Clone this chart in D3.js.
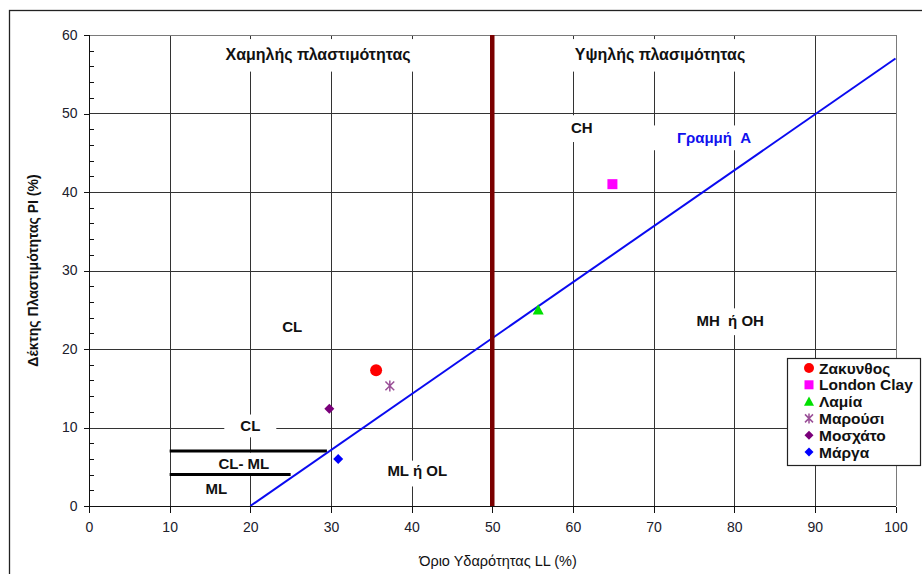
<!DOCTYPE html>
<html>
<head>
<meta charset="utf-8">
<script src="https://cdn.jsdelivr.net/npm/d3@7"></script>
<style>
  html, body { margin: 0; padding: 0; background: #fff; }
  svg { display: block; font-family: "Liberation Sans", Arial, sans-serif; }
</style>
</head>
<body>
<svg id="chart" width="922" height="574"></svg>
<script>
// Plasticity chart (Casagrande): liquid limit LL vs plasticity index PI

const llTicks = [0, 10, 20, 30, 40, 50, 60, 70, 80, 90, 100];
const piTicks = [0, 10, 20, 30, 40, 50, 60];
const piMinorTicks = [2, 4, 6, 8, 12, 14, 16, 18, 22, 24, 26, 28, 32, 34, 36, 38, 42, 44, 46, 48, 52, 54, 56, 58];

// Samples
const sampleNames = ["Ζακυνθος", "London Clay", "Λαμία", "Μαρούσι", "Μοσχάτο", "Μάργα"];
const sampleLL = [35.6, 64.9, 55.7, 37.3, 29.8, 30.9];
const samplePI = [17.3, 41.0, 25.0, 15.3, 12.4, 6.0];

// A-line and the LL = 50 boundary
const aLineLL = [20, 100];
const aLinePI = [0, 57];
const boundaryLL = 50;

// CL-ML band boundaries (PI = 7 and PI = 4)
const bandPI = [7, 4];
const bandStartLL = [10, 10];
const bandEndLL = [29.5, 25];

// Zone annotations, placed in chart units
const zoneText = ["Χαμηλής πλαστιμότητας", "Υψηλής πλασιμότητας", "CH", "Γραμμή  A", "CL", "MH  ή OH", "CL", "CL- ML", "ML", "ML ή OL"];
const zoneLL = [28.4, 70.8, 61.1, 77.5, 25.2, 79.5, 20.0, 19.2, 15.8, 40.7];
const zonePI = [57.6, 57.6, 48.2, 46.9, 22.9, 23.6, 10.2, 5.35, 2.2, 4.45];

// ---- styling ----
const markerColors = ["#ff0000", "#ff00ff", "#00e000", "#9a4f97", "#7a007a", "#0000ff"];
const markerShapes = ["circle", "square", "triangle", "star", "diamond", "diamond"];
// white background padding for each annotation: [top, right, bottom, left]
const zonePad = [[9, 7, 12, 7], [9, 7, 12, 7], [7, 6, 9, 6], [7, 8, 7, 24], [6, 6, 6, 6],
                 [7, 7, 9, 7], [6, 16, 6, 16], [6, 6, 5, 6], [5, 6, 5, 6], [5, 7, 10, 7]];
const zoneColor = ["#111", "#111", "#111", "#1010ee", "#111", "#111", "#111", "#111", "#111", "#111"];
const zoneSize = [16, 16, 15, 15, 15, 15, 15, 15, 15, 15];

const svg = d3.select("#chart");
const plot = { left: 89, right: 895.5, top: 35, bottom: 506 };

const x = d3.scaleLinear().domain([0, 100]).range([plot.left, plot.right]);
const y = d3.scaleLinear().domain([0, 60]).range([plot.bottom, plot.top]);

// outer frame
svg.append("rect")
  .attr("x", 9.5).attr("y", 10.5).attr("width", 1000).attr("height", 1000)
  .attr("fill", "none").attr("stroke", "#222").attr("stroke-width", 1.3);

// grid
const grid = svg.append("g").attr("stroke", "#333").attr("stroke-width", 1).attr("shape-rendering", "crispEdges");
grid.selectAll("line.v").data(llTicks.filter(d => d > 0 && d < 100)).join("line")
  .attr("x1", d => Math.round(x(d)) + 0.5).attr("x2", d => Math.round(x(d)) + 0.5)
  .attr("y1", plot.top).attr("y2", plot.bottom);
grid.selectAll("line.h").data(piTicks.filter(d => d > 0 && d < 60)).join("line")
  .attr("class", "h")
  .attr("x1", plot.left).attr("x2", plot.right)
  .attr("y1", d => Math.round(y(d)) + 0.5).attr("y2", d => Math.round(y(d)) + 0.5);

// plot border (top / right)
svg.append("path")
  .attr("d", `M${plot.left},${Math.round(y(60)) + 0.5}H${Math.round(x(100)) + 0.5}V${plot.bottom}`)
  .attr("fill", "none").attr("stroke", "#7a7a7a").attr("shape-rendering", "crispEdges");

// zone annotations with white boxes
const zones = svg.append("g");
zoneText.forEach((t, i) => {
  const g = zones.append("g");
  const fs = zoneSize[i];
  const txt = g.append("text")
    .attr("x", x(zoneLL[i])).attr("y", y(zonePI[i]))
    .attr("dy", "0.36em")
    .attr("text-anchor", "middle")
    .attr("font-size", fs).attr("font-weight", "bold")
    .attr("fill", zoneColor[i])
    .style("white-space", "pre")
    .text(t);
  const bb = txt.node().getBBox();
  const capTop = y(zonePI[i]) - 0.36 * fs;
  const base = y(zonePI[i]) + 0.36 * fs;
  const p = zonePad[i];
  g.insert("rect", "text")
    .attr("x", bb.x - p[3]).attr("y", capTop - p[0])
    .attr("width", bb.width + p[1] + p[3]).attr("height", base - capTop + p[0] + p[2])
    .attr("fill", "#fff");
});

// CL-ML band lines
svg.append("g").selectAll("line").data(bandPI).join("line")
  .attr("x1", (d, i) => x(bandStartLL[i])).attr("x2", (d, i) => x(bandEndLL[i]))
  .attr("y1", d => y(d)).attr("y2", d => y(d))
  .attr("stroke", "#000").attr("stroke-width", 3);

// A-line
svg.append("line")
  .attr("x1", x(aLineLL[0])).attr("y1", y(aLinePI[0]))
  .attr("x2", x(aLineLL[1])).attr("y2", y(aLinePI[1]))
  .attr("stroke", "#0a0af0").attr("stroke-width", 2);

// LL = 50 boundary
svg.append("line")
  .attr("x1", x(boundaryLL)).attr("x2", x(boundaryLL))
  .attr("y1", y(0)).attr("y2", y(60))
  .attr("stroke", "#7b0000").attr("stroke-width", 4.5);

// axes
const yAxis = svg.append("g")
  .attr("transform", `translate(${plot.left + 0.5},0)`)
  .call(d3.axisLeft(y).tickValues(piTicks).tickSize(6).tickPadding(6).tickFormat(d3.format("d")));
const yMinor = svg.append("g")
  .attr("transform", `translate(${plot.left + 0.5},0)`)
  .call(d3.axisRight(y).tickValues(piMinorTicks).tickSize(4).tickFormat(""));
yMinor.select(".domain").remove();
const xAxis = svg.append("g")
  .attr("transform", `translate(0,${plot.bottom + 0.5})`)
  .call(d3.axisBottom(x).tickValues(llTicks).tickSize(6).tickPadding(10).tickFormat(d3.format("d")));

[yAxis, xAxis, yMinor].forEach(a => {
  a.selectAll("path, line").attr("stroke", "#111").attr("shape-rendering", "crispEdges");
  a.selectAll("text").attr("font-size", 14).attr("fill", "#20202c")
    .attr("font-family", "'Liberation Sans', Arial, sans-serif");
});
yAxis.select(".domain").attr("d", `M0,${y(60)}V${y(0)}`);
xAxis.select(".domain").attr("d", `M${x(0)},0H${x(100)}`);

// axis titles
svg.append("text")
  .attr("x", 498).attr("y", 566)
  .attr("text-anchor", "middle").attr("font-size", 14.5).attr("fill", "#111")
  .text("Όριο Υδαρότητας LL (%)");
svg.append("text")
  .attr("transform", `translate(38,${(plot.top + plot.bottom) / 2}) rotate(-90)`)
  .attr("text-anchor", "middle").attr("font-size", 14).attr("font-weight", "bold").attr("fill", "#111")
  .text("Δέκτης Πλαστιμότητας PI (%)");

// marker shapes
function markerPath(shape, s) {
  const h = s / 2;
  switch (shape) {
    case "square": return `M${-h},${-h}H${h}V${h}H${-h}Z`;
    case "triangle": return `M0,${-h}L${h},${h * 0.85}L${-h},${h * 0.85}Z`;
    case "diamond": return `M0,${-h}L${h},0L0,${h}L${-h},0Z`;
    case "star": return `M${-h * 0.8},${-h * 0.8}L${h * 0.8},${h * 0.8}M${-h * 0.8},${h * 0.8}L${h * 0.8},${-h * 0.8}M0,${-h}V${h}`;
  }
  return "";
}
function drawMarker(g, shape, color, cx, cy, s) {
  if (shape === "circle") {
    g.append("circle").attr("cx", cx).attr("cy", cy).attr("r", s / 2).attr("fill", color);
  } else if (shape === "star") {
    g.append("path").attr("transform", `translate(${cx},${cy})`).attr("d", markerPath(shape, s))
      .attr("fill", "none").attr("stroke", color).attr("stroke-width", 1.5);
  } else {
    g.append("path").attr("transform", `translate(${cx},${cy})`).attr("d", markerPath(shape, s))
      .attr("fill", color);
  }
}

const pts = svg.append("g");
const markerSize = [12, 10, 11, 11, 10, 10];
sampleNames.forEach((n, i) => {
  drawMarker(pts, markerShapes[i], markerColors[i], x(sampleLL[i]), y(samplePI[i]), markerSize[i]);
});

// legend
const legend = svg.append("g");
legend.append("rect")
  .attr("x", 787.5).attr("y", 358.5).attr("width", 133).attr("height", 107)
  .attr("fill", "#fff").attr("stroke", "#222").attr("stroke-width", 1.2);
const legendSize = [10, 9, 10, 10, 9, 9];
sampleNames.forEach((n, i) => {
  const cy = 368 + i * 16.8;
  drawMarker(legend, markerShapes[i], markerColors[i], 809, cy, legendSize[i]);
  legend.append("text")
    .attr("x", 819).attr("y", cy).attr("dy", "0.36em")
    .attr("font-size", 15.5).attr("font-weight", "bold").attr("fill", "#111")
    .text(n);
});
</script>
</body>
</html>
